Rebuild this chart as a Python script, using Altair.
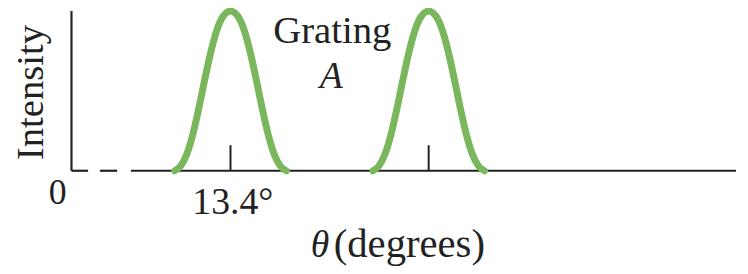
import altair as alt
import pandas as pd

# ---- data ----
peak1_theta = [8.7, 9.2, 9.7, 10.2, 10.7, 11.2, 11.7, 12.2, 12.8, 13.4,
               14.0, 14.6, 15.1, 15.6, 16.1, 16.6, 17.1, 17.6, 18.1]
peak2_theta = [25.4, 25.9, 26.4, 26.9, 27.4, 27.9, 28.4, 28.9, 29.5, 30.1,
               30.7, 31.3, 31.8, 32.3, 32.8, 33.3, 33.8, 34.3, 34.8]
peak_intensity = [0, 0.03, 0.10, 0.22, 0.38, 0.56, 0.73, 0.87, 0.97, 1.0,
                  0.97, 0.87, 0.73, 0.56, 0.38, 0.22, 0.10, 0.03, 0]

tick_positions = [13.4, 30.1]
tick_top = 0.16

# baseline pieces (two dashes then solid)
base_start = [0.0, 2.4, 5.0]
base_end = [1.4, 3.85, 56.0]

GREEN = "#7ab75c"
INK = "#222222"
FONT = "Liberation Serif"

curve = pd.DataFrame({
    "theta": peak1_theta + peak2_theta,
    "I": peak_intensity + peak_intensity,
    "peak": ["1"] * len(peak1_theta) + ["2"] * len(peak2_theta),
})
base = pd.DataFrame({"x": base_start, "x2": base_end, "y": [0] * 3})
yaxis = pd.DataFrame({"x": [0], "y": [0], "y2": [1.0]})
ticks = pd.DataFrame({"x": tick_positions, "y": [0, 0], "y2": [tick_top, tick_top]})

xs = alt.Scale(domain=[0, 56], nice=False, zero=False)
ys = alt.Scale(domain=[0, 1], nice=False)

X = lambda f: alt.X(f, type="quantitative", scale=xs, axis=None)
Y = lambda f: alt.Y(f, type="quantitative", scale=ys, axis=None)

base_layer = alt.Chart(base).mark_rule(color=INK, strokeWidth=2.2).encode(
    x=X("x"), x2="x2", y=Y("y"))
yaxis_layer = alt.Chart(yaxis).mark_rule(color=INK, strokeWidth=2.2).encode(
    x=X("x"), y=Y("y"), y2="y2")
tick_layer = alt.Chart(ticks).mark_rule(color=INK, strokeWidth=2).encode(
    x=X("x"), y=Y("y"), y2="y2")
curve_layer = alt.Chart(curve).mark_line(
    color=GREEN, strokeWidth=7, interpolate="monotone", strokeCap="round"
).encode(x=X("theta"), y=Y("I"), detail="peak:N")


def txt(t, x, y, size=38, align="center", italic=False, angle=0, baseline="alphabetic"):
    d = pd.DataFrame({"x": [x], "y": [y], "t": [t]})
    kw = dict(font=FONT, fontSize=size, color=INK, align=align, baseline=baseline)
    if italic:
        kw["fontStyle"] = "italic"
    if angle:
        kw["angle"] = angle
    return alt.Chart(d).mark_text(**kw).encode(x=X("x"), y=Y("y"), text="t:N")


texts = [
    txt("0", -1.17, -0.211, size=36),
    txt("13.4°", 13.6, -0.273, size=38),
    txt("θ", 21.73, -0.54, size=38, align="right", italic=True),
    txt("(degrees)", 22.1, -0.54, size=41, align="left"),
    txt("Grating", 21.98, 0.80, size=39),
    txt("A", 21.9, 0.52, size=38, italic=True),
    txt("Intensity", -2.36, 0.49, size=39, angle=270),
]

chart = alt.layer(base_layer, yaxis_layer, tick_layer, curve_layer, *texts).properties(
    width=670, height=161,
    background="white",
    autosize=alt.AutoSizeParams(type="none"),
    padding={"left": 64, "top": 2, "right": 4, "bottom": 103},
).configure_view(stroke=None, strokeWidth=0)

chart.save("out.html", embed_options={"renderer": "svg", "actions": False})
